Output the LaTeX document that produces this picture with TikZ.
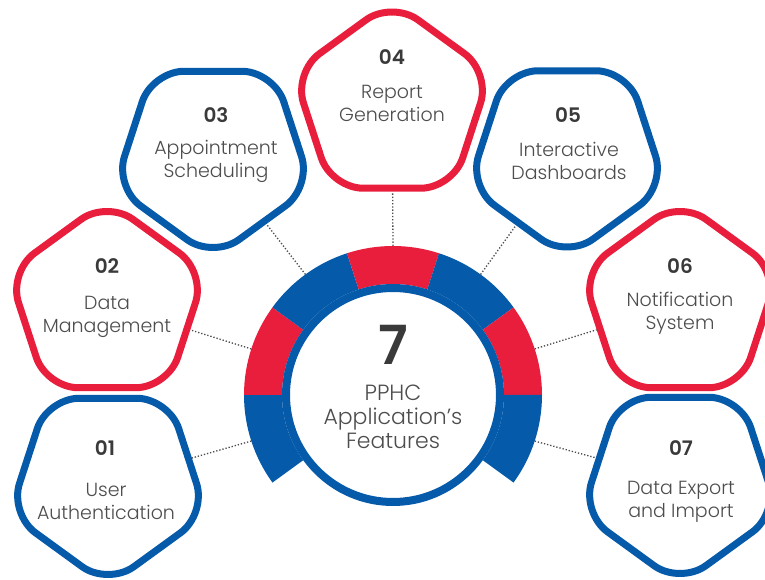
\documentclass[tikz,border=0pt]{standalone}
\usepackage{fontspec}
\setmainfont{Poppins}[UprightFont=* Light, BoldFont=* SemiBold]
\usetikzlibrary{shapes.geometric,calc}
\definecolor{ppblue}{HTML}{055AAA}
\definecolor{ppred}{HTML}{E91E3D}
\definecolor{txtgray}{HTML}{4D4D4D}
\definecolor{numgray}{HTML}{3A3A3A}
\definecolor{dotgray}{HTML}{4A4A4A}
\begin{document}
\begin{tikzpicture}[x=1pt,y=1pt,
  pent/.style={regular polygon, regular polygon sides=5, minimum size=207pt,
    inner sep=0pt, line width=7pt, rounded corners=32pt, fill=white},
  pentup/.style={pent, draw=ppred},
  pentdown/.style={pent, draw=ppblue, shape border rotate=180},
  num/.style={font=\fontsize{20}{20}\selectfont\bfseries, text=numgray},
  lbl/.style={font=\fontsize{19}{23}\selectfont, text=txtgray, align=center},
  link/.style={draw=dotgray, line width=1.3pt, dash pattern=on 1.3pt off 1.9pt}]
\useasboundingbox (0,0) rectangle (765,580);
\coordinate (c) at (393,185);

% feature pentagons
\node[pentdown] (p1) at (108,98) {};
\node[pentup]   (p2) at (107,276) {};
\node[pentdown] (p3) at (213,425) {};
\node[pentup]   (p4) at (392,475.5) {};
\node[pentdown] (p5) at (567,425.5) {};
\node[pentup]   (p6) at (680,276) {};
\node[pentdown] (p7) at (680,99) {};

% segmented ring around the hub
\foreach \a/\col in {180/ppblue,144/ppred,108/ppblue,72/ppred,36/ppblue,0/ppred,-36/ppblue}
  \fill[\col] ($(c)+(\a:149)$) arc[start angle=\a, delta angle=36, radius=149]
    -- ($(c)+(\a+36:111)$) arc[start angle=\a+36, delta angle=-36, radius=111] -- cycle;

\node[circle, draw=ppblue, line width=8pt, minimum size=214pt, inner sep=0pt, fill=white] (core) at (c) {};

% ring anchor points for the dotted links
\coordinate (r1) at ($(c)+(198:149)$);
\coordinate (r2) at ($(c)+(162:149)$);
\coordinate (r3) at ($(c)+(126:149)$);
\coordinate (r4) at ($(c)+(90:149)$);
\coordinate (r5) at ($(c)+(54:149)$);
\coordinate (r6) at ($(c)+(18:149)$);
\coordinate (r7) at ($(c)+(-18:149)$);
\foreach \i in {1,...,7} \draw[link] (r\i) -- (p\i);

% hub text
\node[font=\fontsize{54}{54}\selectfont\bfseries, text=numgray] (big) at (393,235) {7};
\node[font=\fontsize{22}{24}\selectfont, text=txtgray, align=center] (title) at (393,163.5) {PPHC\\Application's\\Features};

% feature labels
\node[num] (n1) at (105,132) {01};
\node[lbl] (t1) at (106,78.5) {User\\Authentication};
\node[num] (n2) at (107,314) {02};
\node[lbl] (t2) at (107,263) {Data\\Management};
\node[num] (n3) at (216,465) {03};
\node[lbl] (t3) at (216,419) {Appointment\\Scheduling};
\node[num] (n4) at (392,523) {04};
\node[lbl] (t4) at (392,477) {Report\\Generation};
\node[num] (n5) at (568,465) {05};
\node[lbl] (t5) at (569,419) {Interactive\\Dashboards};
\node[num] (n6) at (680,314) {06};
\node[lbl] (t6) at (680,266.5) {Notification\\System};
\node[num] (n7) at (681,132) {07};
\node[lbl] (t7) at (681,78.5) {Data Export\\and Import};
\end{tikzpicture}
\end{document}
